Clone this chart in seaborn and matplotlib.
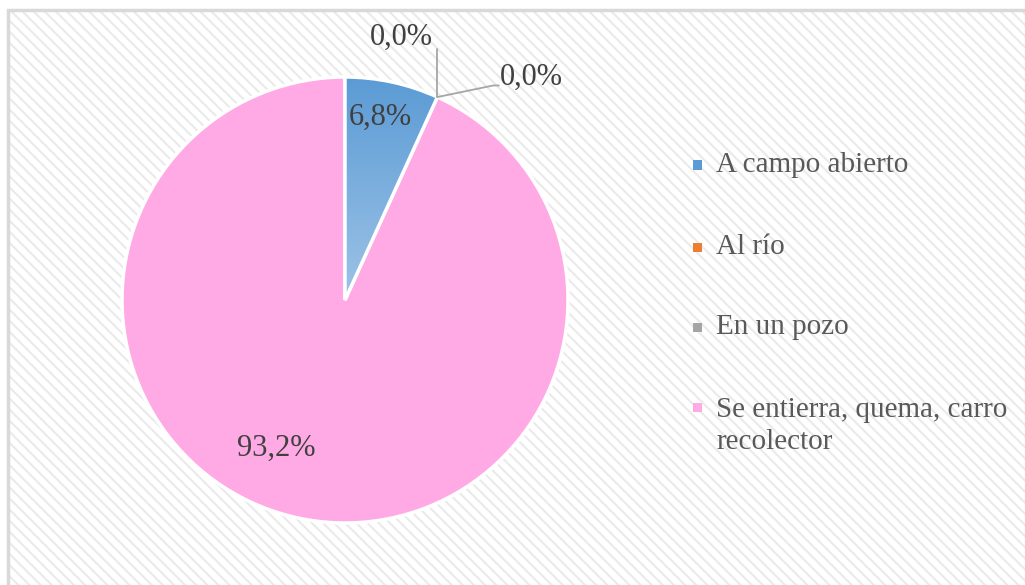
import numpy as np
import matplotlib
matplotlib.use("Agg")
import matplotlib.pyplot as plt
import seaborn as sns
from matplotlib.patches import Rectangle
from matplotlib.colors import LinearSegmentedColormap

categories = ["A campo abierto", "Al río", "En un pozo", "Se entierra, quema, carro\nrecolector"]
values = [6.8, 0.0, 0.0, 93.2]
labels = ["6,8%", "0,0%", "0,0%", "93,2%"]
colors = ["#5B9BD5", "#ED7D31", "#A5A5A5", "#FFAAE5"]

sns.set_theme(style="white")
plt.rcParams["font.family"] = ["Liberation Serif", "DejaVu Serif"]
plt.rcParams["hatch.linewidth"] = 1.5

W, H = 1025, 585
fig = plt.figure(figsize=(W / 100, H / 100), dpi=100)
fig.patch.set_facecolor("white")

# background hatched plot area with thin border
bg = Rectangle((8 / W, 0), 1.0, 1 - 10 / H, transform=fig.transFigure,
               facecolor="white", edgecolor="#EAEAEA", hatch="\\\\\\", linewidth=0, zorder=-2)
fig.patches.append(bg)
border = Rectangle((8 / W, -0.01), 1.0, 1.01 - 10 / H, transform=fig.transFigure,
                   facecolor="none", edgecolor="#D9D9D9", linewidth=2.5, zorder=-1)
fig.patches.append(border)

cx, cy, r = 345, 300, 223
ax = fig.add_axes([(cx - r) / W, (H - cy - r) / H, 2 * r / W, 2 * r / H])
ax.set_facecolor("none")
ax.axis("off")
ax.set_zorder(1)

wedges, _ = ax.pie(values, colors=colors, startangle=90, counterclock=False,
                   wedgeprops=dict(edgecolor="white", linewidth=2.5))

# gradient on the first slice
grad = np.linspace(0, 1, 256).reshape(-1, 1)
cmap = LinearSegmentedColormap.from_list("bl", ["#5B9BD5", "#9DC3E6"])
im = ax.imshow(grad, cmap=cmap, extent=[0, 1, 0, 1], origin="upper", aspect="auto", zorder=1.5)
im.set_clip_path(wedges[0])
wedges[0].set_facecolor("none")
wedges[0].set_zorder(2)
ax.set_xlim(-1, 1)
ax.set_ylim(-1, 1)
ax.set_aspect("equal")

tc = "#404040"
fs = 22
# inside labels
ax.text(0.157, 0.82, labels[0], ha="center", va="center", fontsize=fs, color=tc, zorder=3)
ax.text(-0.31, -0.665, labels[3], ha="center", va="center", fontsize=fs, color=tc, zorder=3)

# zero labels with leader lines
theta = np.deg2rad(90 - values[0] * 3.6)
px, py = np.cos(theta), np.sin(theta)
lc = "#A6A6A6"
ax.plot([px, px], [py, 1.125], color=lc, lw=1.3, clip_on=False, zorder=3)
ax.text(px - 0.02, 1.18, labels[1], ha="right", va="center", fontsize=fs, color=tc, clip_on=False)
ax.plot([px, 0.665, 0.69], [py, 0.962, 0.962], color=lc, lw=1.3, clip_on=False, zorder=3)
ax.text(0.695, 1.0, labels[2], ha="left", va="center", fontsize=fs, color=tc, clip_on=False)

# legend
ys = [165, 247, 327, 407]
for cat, col, y in zip(categories, colors, ys):
    fig.patches.append(Rectangle(((697 - 4.5) / W, (H - y - 4.5) / H), 9 / W, 9 / H,
                                 transform=fig.transFigure, facecolor=col, edgecolor="none", zorder=3))
    if "\n" in cat:
        fig.text(716 / W, (H - y + 10) / H, cat, ha="left", va="top",
                 fontsize=21, color="#595959", linespacing=1.3)
    else:
        fig.text(716 / W, (H - y) / H, cat, ha="left", va="center",
                 fontsize=21, color="#595959")

fig.savefig("out.png", dpi=100)
